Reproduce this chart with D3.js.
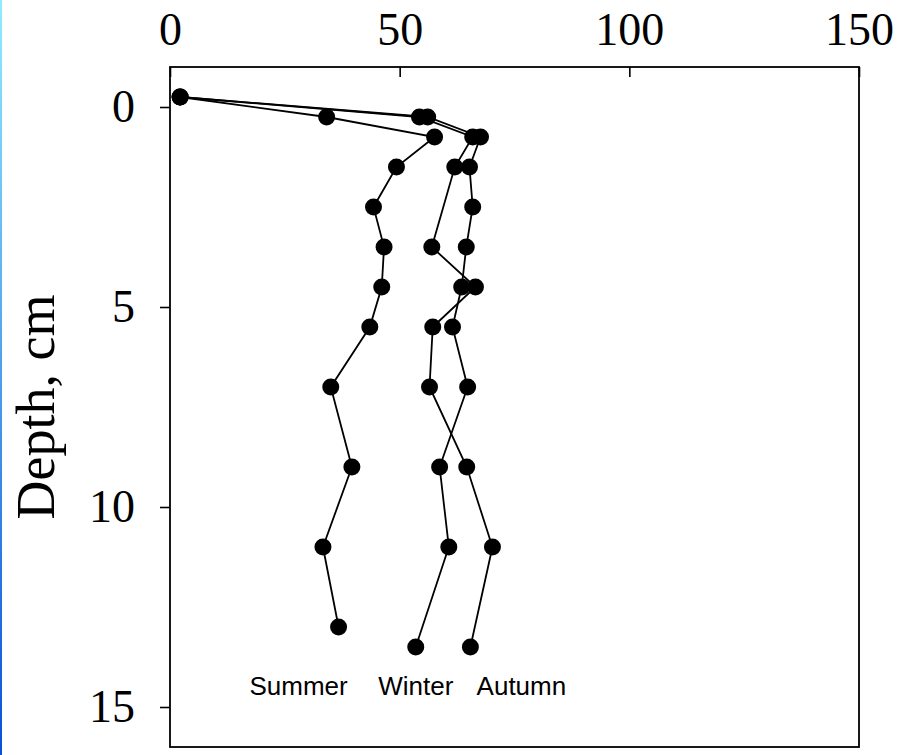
<!DOCTYPE html>
<html>
<head>
<meta charset="utf-8">
<script src="https://cdn.jsdelivr.net/npm/d3@7"></script>
<style>
  body { margin: 0; background: #fff; }
  svg { display: block; }
</style>
</head>
<body>
<svg id="chart" width="904" height="755"></svg>
<script>
// depth (cm) and value, one pair of arrays per season
var summerDepth = [-0.25, 0.25, 0.75, 1.5, 2.5, 3.5, 4.5, 5.5, 7, 9, 11, 13];
var summerValue = [2.2, 34.1, 57.6, 49.3, 44.3, 46.6, 46.1, 43.5, 35.0, 39.6, 33.3, 36.7];

var winterDepth = [-0.25, 0.25, 0.75, 1.5, 2.5, 3.5, 4.5, 5.5, 7, 9, 11, 13.5];
var winterValue = [2.2, 56.1, 67.6, 65.2, 65.9, 64.5, 63.5, 61.5, 64.8, 58.7, 60.7, 53.5];

var autumnDepth = [-0.25, 0.25, 0.75, 1.5, 3.5, 4.5, 5.5, 7, 9, 11, 13.5];
var autumnValue = [2.2, 54.3, 65.9, 62.0, 57.0, 66.5, 57.2, 56.5, 64.6, 70.2, 65.4];

var xTicks = [0, 50, 100, 150];
var yTicks = [0, 5, 10, 15];

// series labels and where they sit (value, depth)
var labelNames = ["Summer", "Winter", "Autumn"];
var labelX = [28, 53.5, 76.5];
var labelDepth = 14.7;

var series = [
    { name: "Summer", depth: summerDepth, value: summerValue },
    { name: "Winter", depth: winterDepth, value: winterValue },
    { name: "Autumn", depth: autumnDepth, value: autumnValue }
];

var svg = d3.select("#chart");

// plot frame edges (window.top is taken, so use other names)
var frameL = 170, frameR = 859, frameT = 67, frameB = 747;

var x = d3.scaleLinear().domain([0, 150]).range([frameL, frameR]);
var y = d3.scaleLinear().domain([-1, 16]).range([frameT, frameB]);

// thin blue edge on the left of the picture
var grad = svg.append("defs").append("linearGradient")
    .attr("id", "edge")
    .attr("x1", 0).attr("y1", 0).attr("x2", 0).attr("y2", 1);
grad.append("stop").attr("offset", "0%").attr("stop-color", "#90ecff");
grad.append("stop").attr("offset", "100%").attr("stop-color", "#0a50d8");
svg.append("rect")
    .attr("x", 0).attr("y", 0)
    .attr("width", 2).attr("height", 755)
    .attr("fill", "url(#edge)");

// top axis, ticks pointing inside
var xAxis = svg.append("g")
    .attr("transform", "translate(0," + frameT + ")")
    .call(d3.axisTop(x).tickValues(xTicks).tickSize(-10).tickPadding(22));

// left axis, ticks pointing outside
var yAxis = svg.append("g")
    .attr("transform", "translate(" + frameL + ",0)")
    .call(d3.axisLeft(y).tickValues(yTicks).tickSize(10).tickPadding(25));

[xAxis, yAxis].forEach(function(a) {
    a.select(".domain").remove();
    a.selectAll("line").attr("stroke", "#000").attr("stroke-width", 1.6);
    a.selectAll("text")
        .attr("fill", "#000")
        .style("font-family", "'Liberation Serif', 'Times New Roman', serif")
        .style("font-size", "46px");
});

// frame
svg.append("rect")
    .attr("x", frameL).attr("y", frameT)
    .attr("width", frameR - frameL).attr("height", frameB - frameT)
    .attr("fill", "none")
    .attr("stroke", "#000")
    .attr("stroke-width", 1.8);

var line = d3.line()
    .x(function(d) { return x(d.v); })
    .y(function(d) { return y(d.d); });

series.forEach(function(s) {
    var pts = s.depth.map(function(d, i) { return { d: d, v: s.value[i] }; });

    svg.append("path")
        .datum(pts)
        .attr("fill", "none")
        .attr("stroke", "#000")
        .attr("stroke-width", 1.8)
        .attr("d", line);

    svg.append("g")
        .selectAll("circle")
        .data(pts)
        .join("circle")
        .attr("cx", function(d) { return x(d.v); })
        .attr("cy", function(d) { return y(d.d); })
        .attr("r", 8.5)
        .attr("fill", "#000");
});

// season names
svg.append("g")
    .selectAll("text")
    .data(labelNames)
    .join("text")
    .attr("x", function(d, i) { return x(labelX[i]); })
    .attr("y", y(labelDepth))
    .attr("text-anchor", "middle")
    .style("font-family", "'Liberation Sans', Arial, sans-serif")
    .style("font-size", "26px")
    .text(function(d) { return d; });

// axis title
svg.append("text")
    .attr("transform", "translate(54," + y(7.5) + ") rotate(-90)")
    .attr("text-anchor", "middle")
    .style("font-family", "'Liberation Serif', 'Times New Roman', serif")
    .style("font-size", "54px")
    .text("Depth, cm");
</script>
</body>
</html>
